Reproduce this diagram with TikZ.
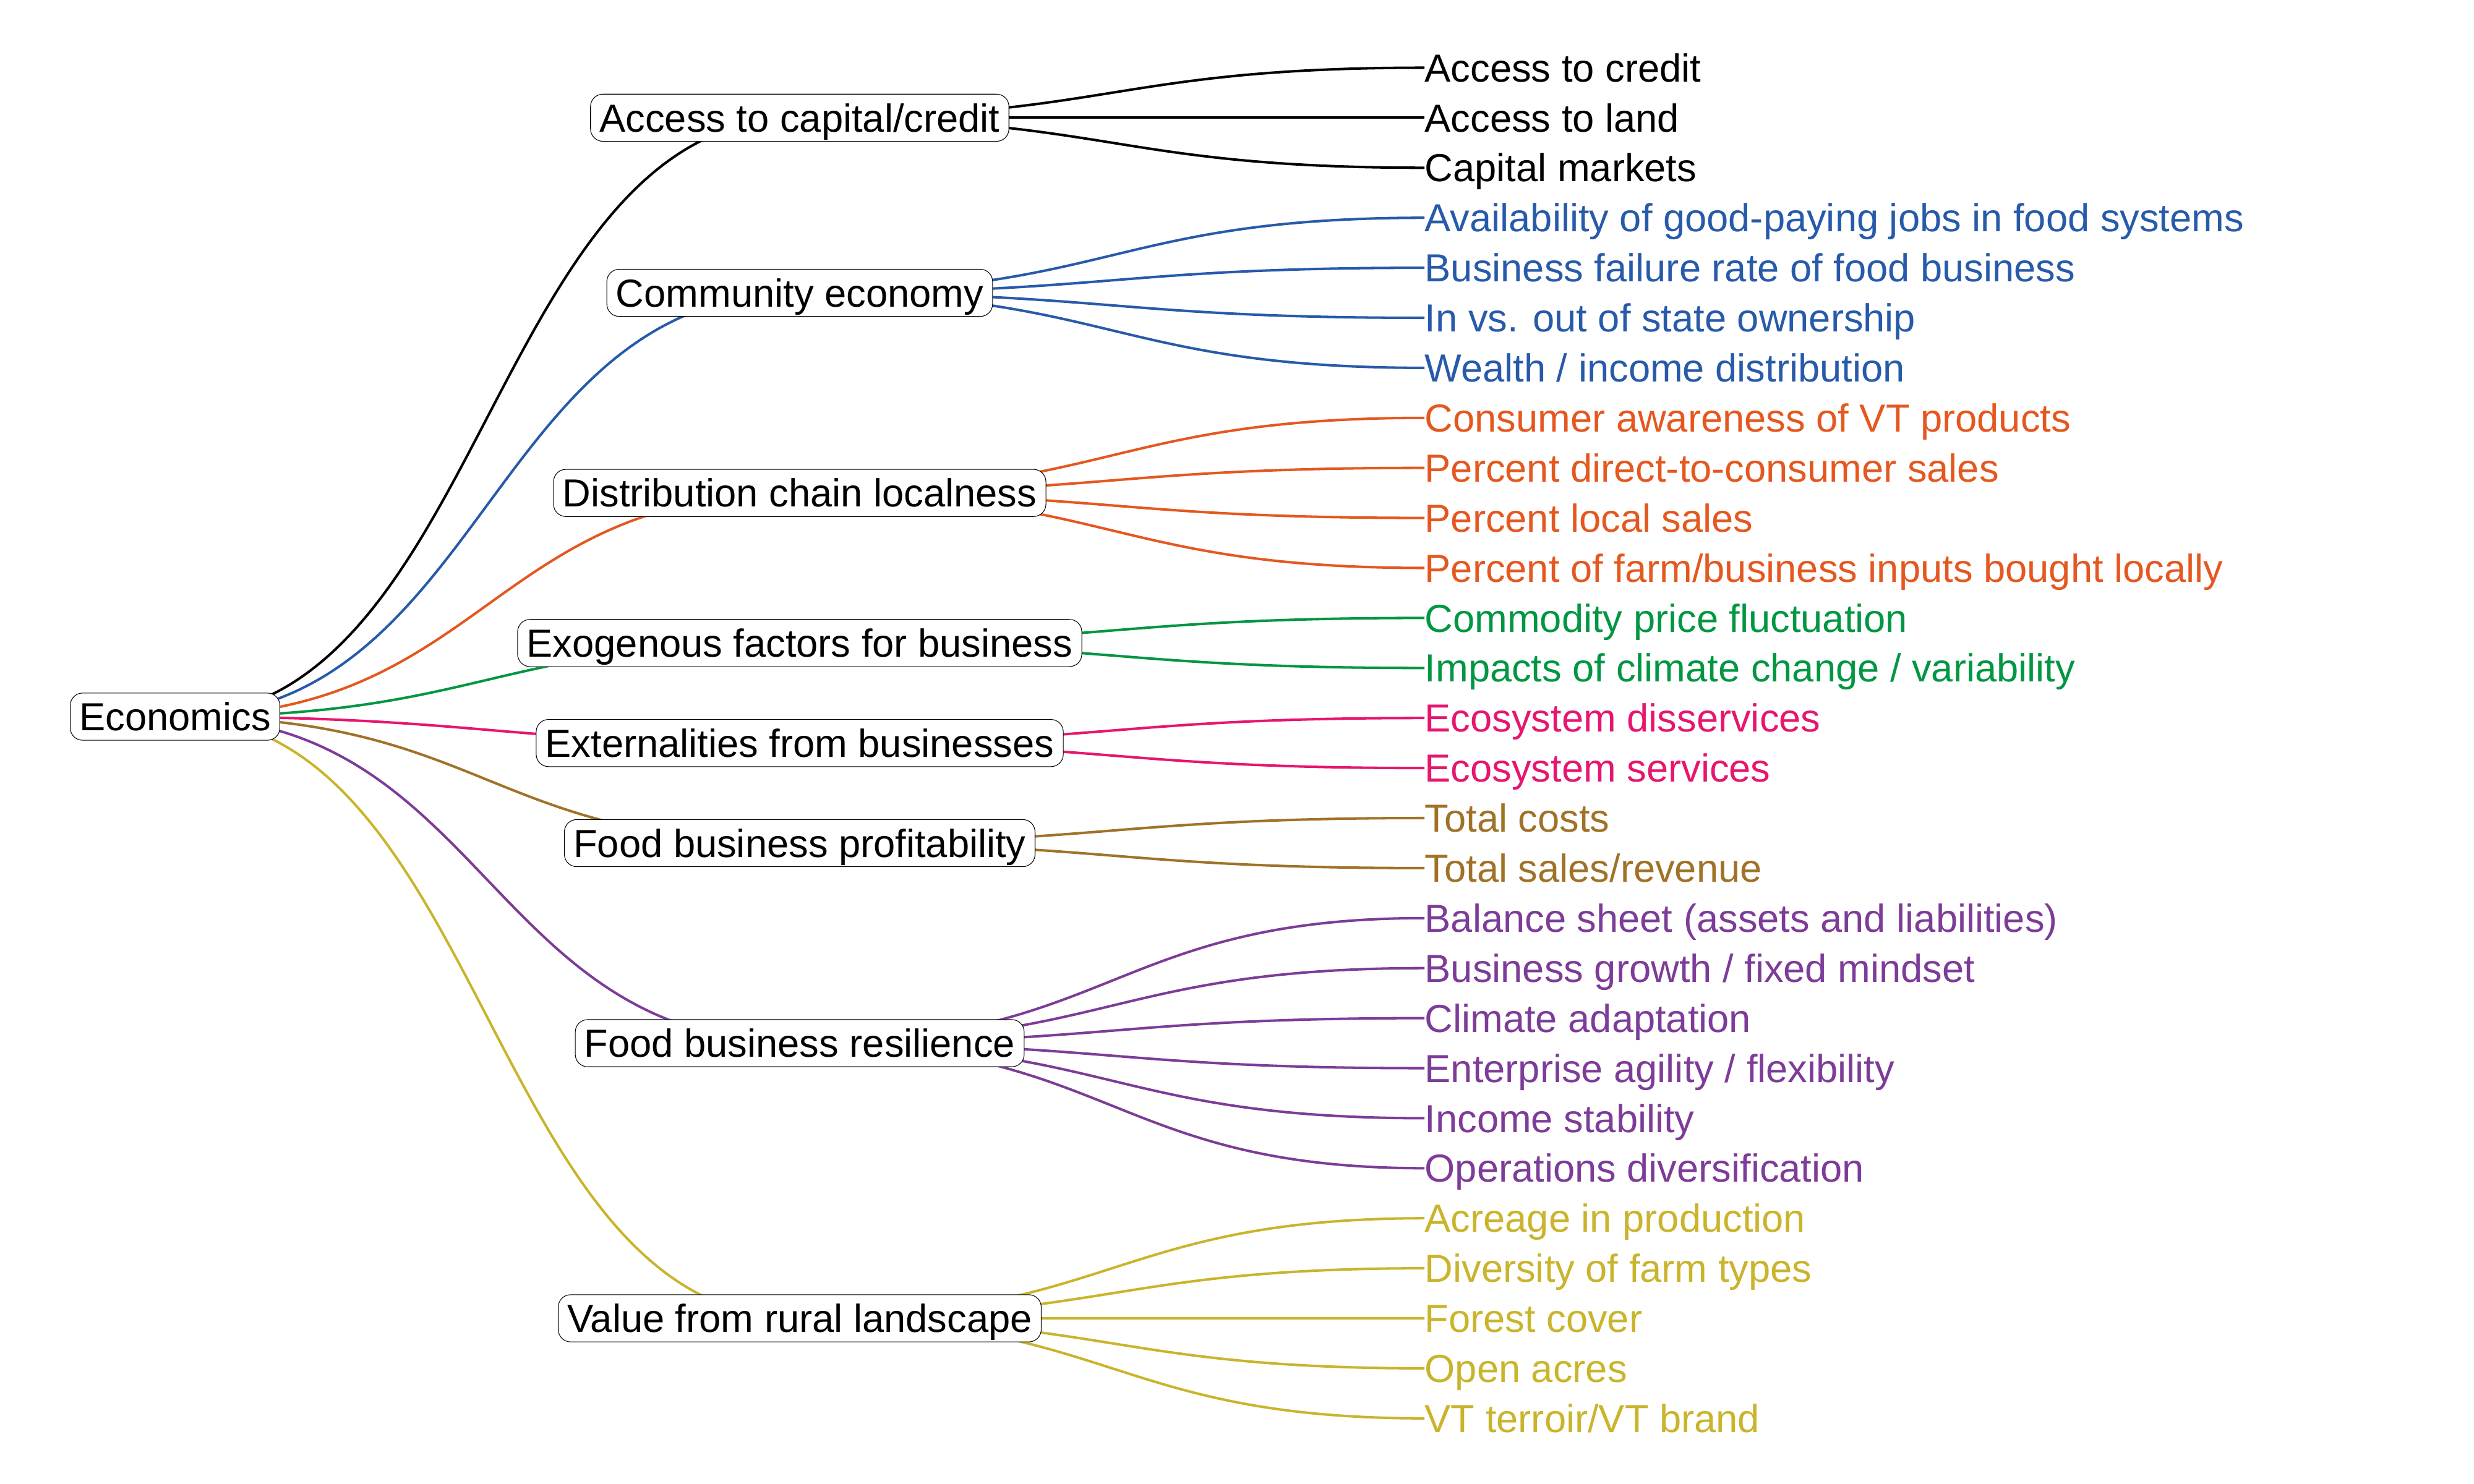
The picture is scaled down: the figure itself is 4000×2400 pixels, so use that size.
\documentclass[tikz,border=0pt]{standalone}
\usepackage{fontspec}
\setmainfont{Liberation Sans}
\usetikzlibrary{calc}
\pgfdeclarelayer{edges}
\pgfsetlayers{edges,main}

\definecolor{cBlack}{RGB}{0,0,0}
\definecolor{cBlue}{RGB}{40,90,170}
\definecolor{cOrange}{RGB}{228,88,32}
\definecolor{cGreen}{RGB}{0,150,66}
\definecolor{cPink}{RGB}{230,22,110}
\definecolor{cBrown}{RGB}{160,114,40}
\definecolor{cPurple}{RGB}{125,60,152}
\definecolor{cYellow}{RGB}{201,180,44}

\tikzset{
  % horizontal diagonal: control points at the mid x of both ends
  diag/.style={to path={let \p1=(\tikztostart), \p2=(\tikztotarget) in
      .. controls ({0.5*\x1+0.5*\x2},\y1) and ({0.5*\x1+0.5*\x2},\y2) .. (\tikztotarget)}},
  lbl/.style={font=\fontsize{18pt}{22pt}\selectfont, text height=12.9pt, text depth=0pt},
  box/.style={lbl, draw=black, line width=0.3pt, fill=white, rounded corners=2mm,
      inner xsep=4.2pt, inner ysep=4.4pt},
  leaf/.style={lbl, anchor=west, inner sep=0pt},
  link/.style={line width=1.15pt},
}

\begin{document}
\begin{tikzpicture}[x=0.1mm, y=-0.1mm]
\useasboundingbox (0,0) rectangle (4000,2400);

% root and second-level nodes
\node[box] (root) at (283,1159) {Economics};
\node[box] (m1) at (1293,190.4)  {Access to capital/credit};
\node[box] (m2) at (1293,473.6)  {Community economy};
\node[box] (m3) at (1293,797.2)  {Distribution chain localness};
\node[box] (m4) at (1293,1039.9) {Exogenous factors for business};
\node[box] (m5) at (1293,1201.7) {Externalities from businesses};
\node[box] (m6) at (1293,1363.5) {Food business profitability};
\node[box] (m7) at (1293,1687.1) {Food business resilience};
\node[box] (m8) at (1293,2132)   {Value from rural landscape};

\begin{pgfonlayer}{edges}
\foreach \m/\c in {m8/cYellow, m7/cPurple, m6/cBrown, m5/cPink, m4/cGreen, m3/cOrange, m2/cBlue, m1/cBlack}
  \draw[link, \c] (root.center) to[diag] (\m.center);
\end{pgfonlayer}

% leaves, one branch at a time
\foreach \t [count=\i from 0] in {Access to credit, Access to land, Capital markets} {
  \node[leaf, text=cBlack] (l\i) at (2303,{109.5+80.9*\i}) {\t};
  \begin{pgfonlayer}{edges}\draw[link, cBlack] (m1.center) to[diag] (l\i.west);\end{pgfonlayer}
}
\foreach \t [count=\i from 3] in {Availability of good-paying jobs in food systems, Business failure rate of food business, In vs. out of state ownership, Wealth / income distribution} {
  \node[leaf, text=cBlue] (l\i) at (2303,{109.5+80.9*\i}) {\t};
  \begin{pgfonlayer}{edges}\draw[link, cBlue] (m2.center) to[diag] (l\i.west);\end{pgfonlayer}
}
\foreach \t [count=\i from 7] in {Consumer awareness of VT products, Percent direct-to-consumer sales, Percent local sales, Percent of farm/business inputs bought locally} {
  \node[leaf, text=cOrange] (l\i) at (2303,{109.5+80.9*\i}) {\t};
  \begin{pgfonlayer}{edges}\draw[link, cOrange] (m3.center) to[diag] (l\i.west);\end{pgfonlayer}
}
\foreach \t [count=\i from 11] in {Commodity price fluctuation, Impacts of climate change / variability} {
  \node[leaf, text=cGreen] (l\i) at (2303,{109.5+80.9*\i}) {\t};
  \begin{pgfonlayer}{edges}\draw[link, cGreen] (m4.center) to[diag] (l\i.west);\end{pgfonlayer}
}
\foreach \t [count=\i from 13] in {Ecosystem disservices, Ecosystem services} {
  \node[leaf, text=cPink] (l\i) at (2303,{109.5+80.9*\i}) {\t};
  \begin{pgfonlayer}{edges}\draw[link, cPink] (m5.center) to[diag] (l\i.west);\end{pgfonlayer}
}
\foreach \t [count=\i from 15] in {Total costs, Total sales/revenue} {
  \node[leaf, text=cBrown] (l\i) at (2303,{109.5+80.9*\i}) {\t};
  \begin{pgfonlayer}{edges}\draw[link, cBrown] (m6.center) to[diag] (l\i.west);\end{pgfonlayer}
}
\foreach \t [count=\i from 17] in {Balance sheet (assets and liabilities), Business growth / fixed mindset, Climate adaptation, Enterprise agility / flexibility, Income stability, Operations diversification} {
  \node[leaf, text=cPurple] (l\i) at (2303,{109.5+80.9*\i}) {\t};
  \begin{pgfonlayer}{edges}\draw[link, cPurple] (m7.center) to[diag] (l\i.west);\end{pgfonlayer}
}
\foreach \t [count=\i from 23] in {Acreage in production, Diversity of farm types, Forest cover, Open acres, VT terroir/VT brand} {
  \node[leaf, text=cYellow] (l\i) at (2303,{109.5+80.9*\i}) {\t};
  \begin{pgfonlayer}{edges}\draw[link, cYellow] (m8.center) to[diag] (l\i.west);\end{pgfonlayer}
}
\end{tikzpicture}
\end{document}
